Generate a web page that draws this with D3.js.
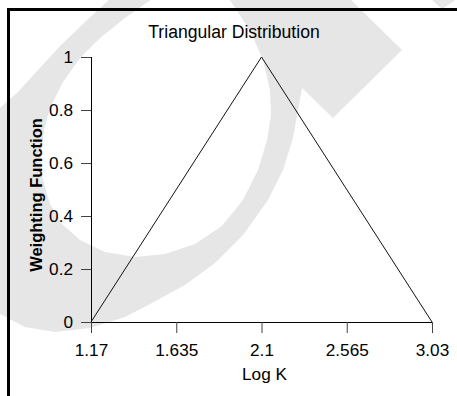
<!DOCTYPE html>
<html>
<head>
<meta charset="utf-8">
<script src="https://cdn.jsdelivr.net/npm/d3@7"></script>
<style>
  html, body { margin: 0; padding: 0; background: #fff; }
  svg { display: block; }
  text { font-family: "Liberation Sans", Arial, Helvetica, sans-serif; fill: #000; }
</style>
</head>
<body>
<svg id="chart" width="457" height="396"></svg>
<script>
// Triangular weighting function over Log K
const logK = [1.17, 2.1, 3.03];
const weight = [0, 1, 0];
const xTicks = [1.17, 1.635, 2.1, 2.565, 3.03];
const xTickLabels = ["1.17", "1.635", "2.1", "2.565", "3.03"];
const yTicks = [0, 0.2, 0.4, 0.6, 0.8, 1];
const yTickLabels = ["0", "0.2", "0.4", "0.6", "0.8", "1"];
const chartTitle = "Triangular Distribution";
const xTitle = "Log K";
const yTitle = "Weighting Function";

// Background emblem outline (decorative)
const emblemOuter = [
  [110,-1],[85,22],[60,46],[38,70],[18,92],[0,108],[-30,160],[-40,210],[-25,270],
  [0,314],[25,327],[55,332],[90,328],[125,317],[152,303],[185,285],[215,263],
  [243,235],[268,200],[283,170],[293,138],[298,110],[302,88],
  [333,118],[402,50],[350,-1]
];
const emblemInner = [
  [229,-1],[240,15],[252,35],[263,60],[270,90],[271,115],[267,140],[258,170],
  [243,200],[222,226],[195,244],[165,254],[135,257],[105,252],[80,240],
  [62,224],[50,204],[43,180],[41,155],[44,130],[50,108],[63,82],[80,58],
  [100,38],[125,18],[152,-1]
];
const emblemCorner = [[431,-1],[442,9],[457,-1]];

const svg = d3.select("#chart");
const W = 457, H = 396;
const margin = { left: 91, right: W - 432, top: 57, bottom: H - 322 };

const x = d3.scaleLinear().domain([1.17, 3.03]).range([margin.left, W - margin.right]);
const y = d3.scaleLinear().domain([0, 1]).range([H - margin.bottom, margin.top]);

// emblem
svg.append("path")
  .attr("d", "M" + emblemOuter.concat(emblemInner).map(p => p.join(",")).join("L") + "Z")
  .attr("fill", "#e6e6e6");
svg.append("path")
  .attr("d", "M" + emblemCorner.map(p => p.join(",")).join("L") + "Z")
  .attr("fill", "#e6e6e6");

// frame on left and top
svg.append("path")
  .attr("d", `M8.5,${H}V9.5H${W}`)
  .attr("fill", "none")
  .attr("stroke", "#000")
  .attr("stroke-width", 3);

// title
svg.append("text")
  .attr("x", 234).attr("y", 38)
  .attr("text-anchor", "middle")
  .attr("font-size", 17.6)
  .text(chartTitle);

// x axis
const xAxis = d3.axisBottom(x)
  .tickValues(xTicks)
  .tickFormat((d, i) => xTickLabels[i])
  .tickSize(11)
  .tickPadding(11);
const gx = svg.append("g").attr("transform", `translate(0,${y(0)})`).call(xAxis);
gx.select(".domain").attr("d", `M${x(1.17)},0.5H${x(3.03)}`).attr("stroke", "#000");
gx.selectAll(".tick line").attr("stroke", "#444");
gx.selectAll(".tick text")
  .attr("font-size", 17.2)
  .attr("font-family", "Liberation Sans, Arial, sans-serif")
  .attr("fill", "#000");

// y axis
const yAxis = d3.axisLeft(y)
  .tickValues(yTicks)
  .tickFormat((d, i) => yTickLabels[i])
  .tickSize(10)
  .tickPadding(8);
const gy = svg.append("g").attr("transform", `translate(${x(1.17)},0)`).call(yAxis);
gy.select(".domain").attr("d", `M0.5,${y(1)}V${y(0)}`).attr("stroke", "#000");
gy.selectAll(".tick line").attr("stroke", "#444");
gy.selectAll(".tick text")
  .attr("font-size", 17.2)
  .attr("font-family", "Liberation Sans, Arial, sans-serif")
  .attr("fill", "#000");

// axis titles
svg.append("text")
  .attr("x", (x.range()[0] + x.range()[1]) / 2 + 3)
  .attr("y", 380)
  .attr("text-anchor", "middle")
  .attr("font-size", 17.2)
  .text(xTitle);

svg.append("text")
  .attr("transform", `translate(42,195) rotate(-90)`)
  .attr("text-anchor", "middle")
  .attr("font-size", 16.5)
  .attr("font-weight", "bold")
  .text(yTitle);

// triangle
const line = d3.line().x((d, i) => x(logK[i])).y(d => y(d));
svg.append("path")
  .datum(weight)
  .attr("d", line)
  .attr("fill", "none")
  .attr("stroke", "#111")
  .attr("stroke-width", 1);
</script>
</body>
</html>
